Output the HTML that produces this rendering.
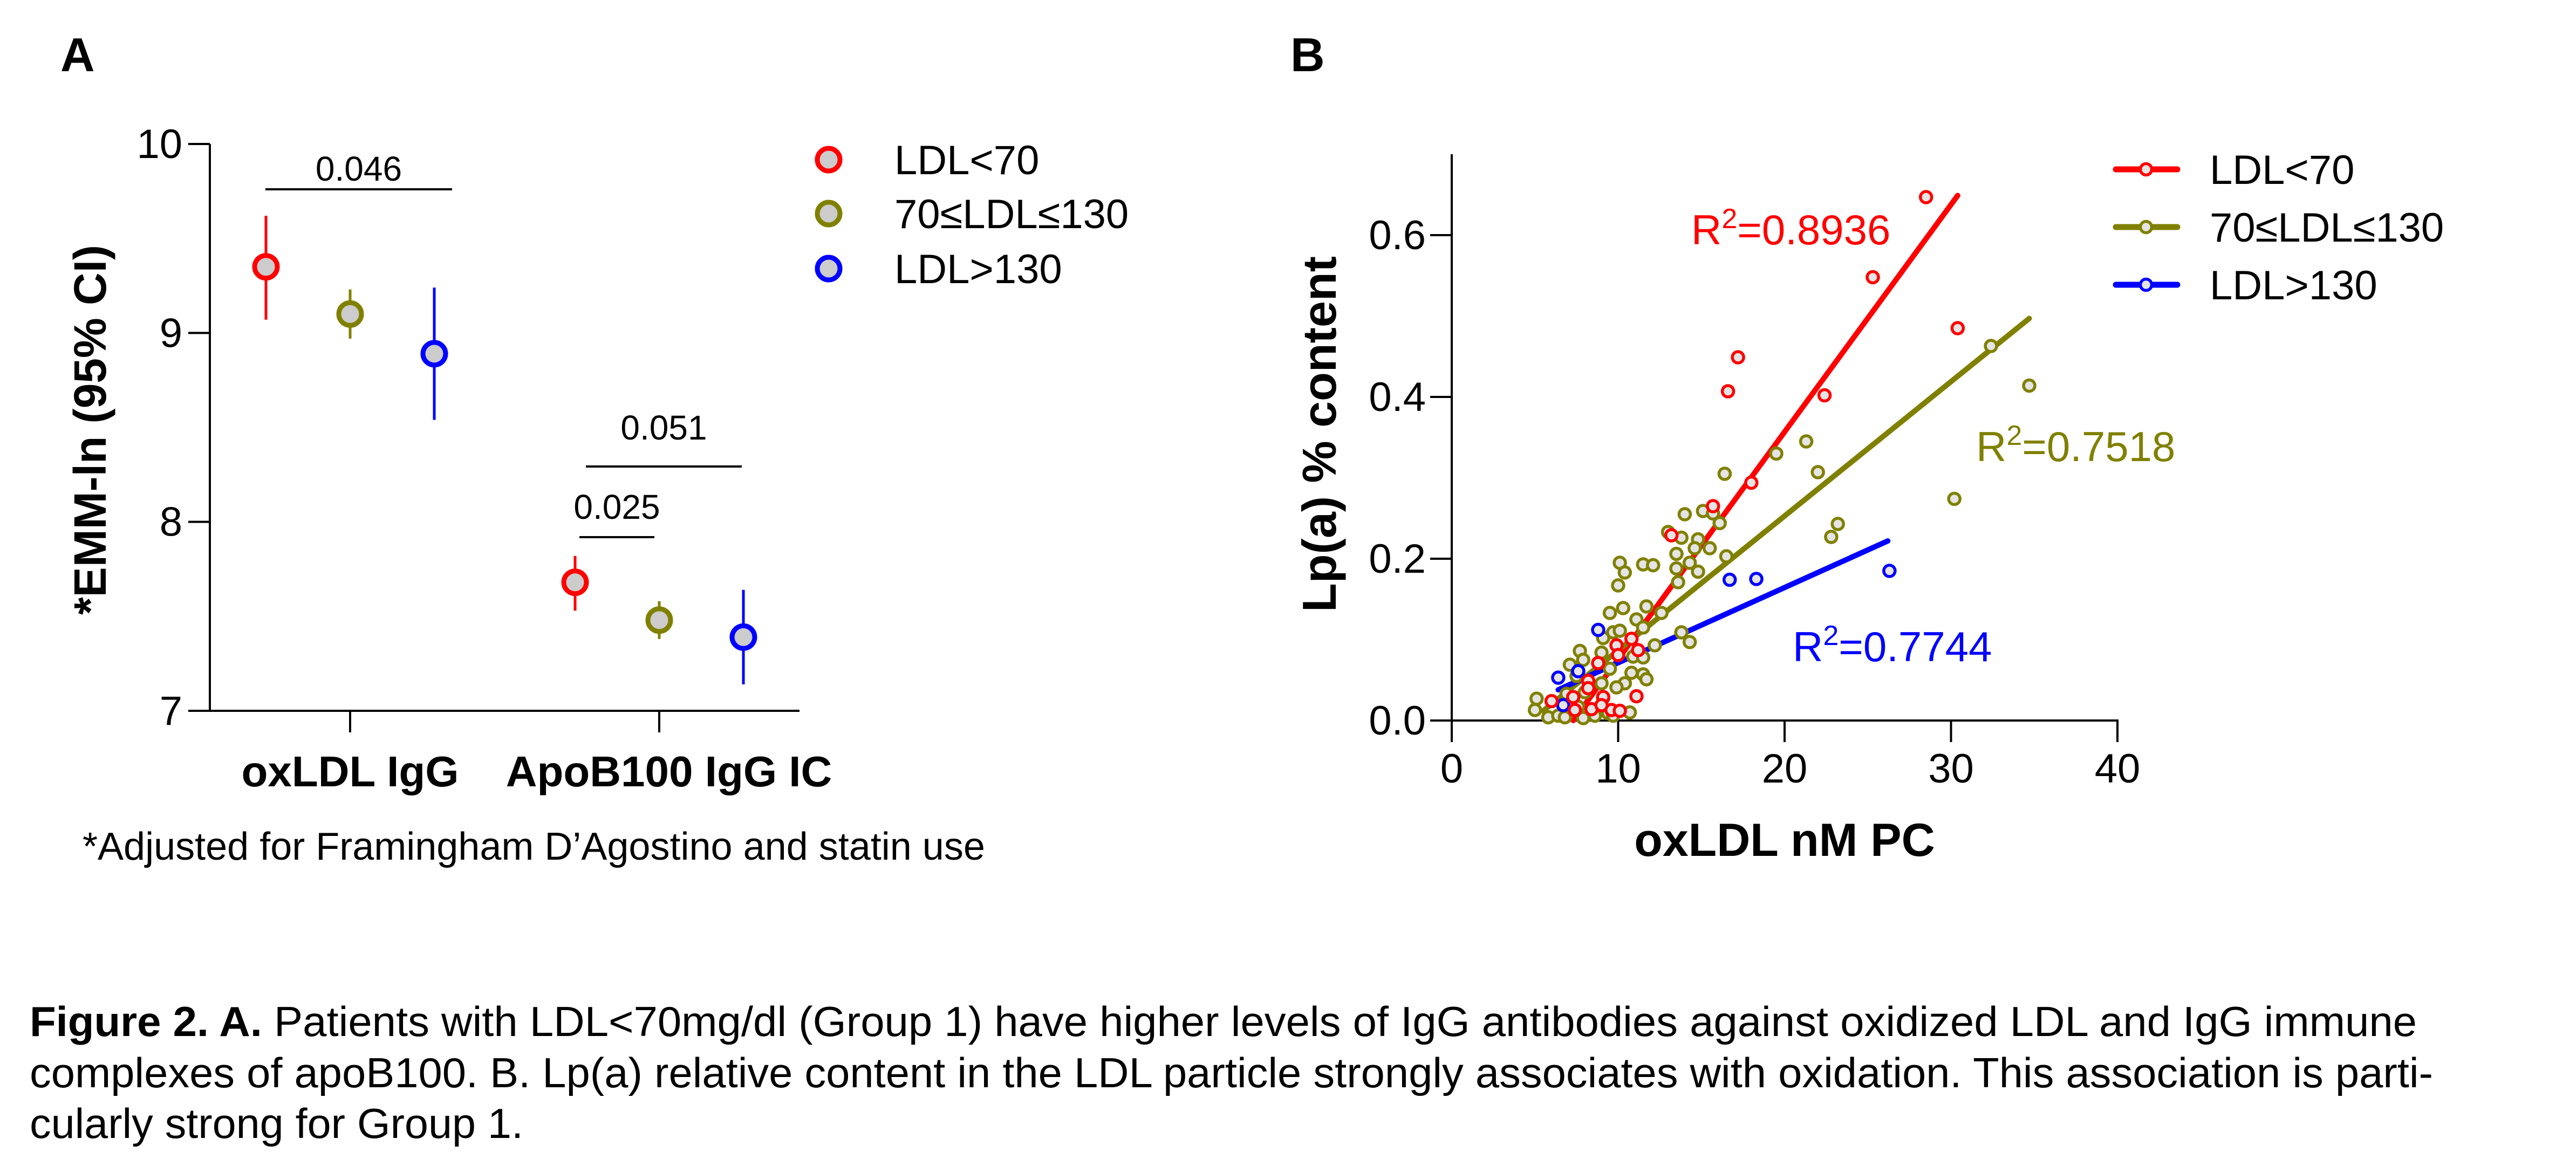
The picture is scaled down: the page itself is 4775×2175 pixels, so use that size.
<!DOCTYPE html>
<html><head><meta charset="utf-8"><style>
html,body{margin:0;padding:0;background:#fff;width:4775px;height:2175px;overflow:hidden}
svg{display:block}
text{font-family:"Liberation Sans",Arial,sans-serif}
</style></head><body>
<svg id="fig" xmlns="http://www.w3.org/2000/svg" width="4775" height="2175" viewBox="0 0 4775 2175">
<rect width="4775" height="2175" fill="#fff"/>
<text x="112" y="132" font-size="88" font-weight="bold">A</text>
<text x="2392" y="132" font-size="88" font-weight="bold">B</text>
<g id="chartA"></g>
<g id="chartB"></g>
<text x="153" y="1594" font-size="72">*Adjusted for Framingham D’Agostino and statin use</text>
<g font-size="78">
<text x="55" y="1921" textLength="4425" lengthAdjust="spacingAndGlyphs"><tspan font-weight="bold">Figure 2. A.</tspan> Patients with LDL&lt;70mg/dl (Group 1) have higher levels of IgG antibodies against oxidized LDL and IgG immune</text>
<text x="55" y="2016" textLength="4455" lengthAdjust="spacingAndGlyphs">complexes of apoB100. B. Lp(a) relative content in the LDL particle strongly associates with oxidation. This association is parti-</text>
<text x="55" y="2110" textLength="915" lengthAdjust="spacingAndGlyphs">cularly strong for Group 1.</text>
</g>
</svg>
<script>
// ---------- Panel A data ----------
const aCategories = ["oxLDL IgG", "ApoB100 IgG IC"];
const aGroups = ["LDL<70", "70≤LDL≤130", "LDL>130"];
const aMeans = [[9.35, 9.10, 8.89], [7.68, 7.48, 7.39]];
const aLow = [[9.07, 8.97, 8.54], [7.53, 7.38, 7.14]];
const aHigh = [[9.62, 9.23, 9.24], [7.82, 7.58, 7.64]];
const aTicks = [7, 8, 9, 10];
const aPvals = ["0.046", "0.051", "0.025"];

// ---------- Panel B data ----------
const bXTicks = [0, 10, 20, 30, 40];
const bYTicks = [0.0, 0.2, 0.4, 0.6];
const bYTickLabels = ["0.0", "0.2", "0.4", "0.6"];
const redX = [28.5,25.3,30.4,17.2,16.6,22.4,18.0,15.7,13.2,10.8,9.9,10.0,11.2,8.8,8.2,8.2,7.3,6.0,9.1,11.1,7.4,8.4,9.6,10.1,9.0];
const redY = [0.647,0.548,0.485,0.449,0.407,0.402,0.294,0.265,0.229,0.101,0.093,0.081,0.087,0.071,0.049,0.040,0.029,0.024,0.029,0.030,0.013,0.014,0.013,0.012,0.019];
const oliveX = [16.4,22.0,14.0,15.1,15.7,16.1,13.8,13.0,14.8,14.6,15.5,13.5,14.3,13.5,14.8,13.6,16.5,10.1,10.4,10.0,11.5,12.1,9.5,10.3,11.7,12.6,11.1,11.5,13.8,14.3,12.2,9.1,9.7,10.1,9.0,7.7,7.9,7.1,7.5,9.5,10.8,11.5,11.7,10.9,11.5,10.4,9.9,9.0,6.9,5.1,5.0,5.8,6.4,6.8,7.9,8.6,9.4,9.7,10.7,7.6,8.0,9.1,21.3,19.5,32.4,34.7,30.2,22.8,23.2];
const oliveY = [0.305,0.307,0.255,0.259,0.256,0.244,0.226,0.233,0.224,0.213,0.213,0.206,0.195,0.188,0.184,0.171,0.203,0.195,0.183,0.167,0.193,0.192,0.133,0.139,0.141,0.133,0.125,0.115,0.109,0.097,0.093,0.102,0.109,0.111,0.084,0.086,0.075,0.069,0.055,0.064,0.059,0.057,0.051,0.079,0.078,0.046,0.041,0.046,0.033,0.027,0.013,0.004,0.006,0.004,0.003,0.006,0.009,0.006,0.010,0.017,0.035,0.028,0.345,0.330,0.463,0.414,0.274,0.227,0.243];
const blueX = [16.7,18.3,26.3,8.8,6.4,7.6,6.7];
const blueY = [0.174,0.175,0.185,0.112,0.053,0.061,0.019];
const fitX = [[7.3,30.4],[5.5,34.7],[6.4,26.2]];
const fitY = [[0.0,0.649],[0.012,0.497],[0.038,0.222]];
const r2Labels = ["0.8936","0.7518","0.7744"];

const NS = "http://www.w3.org/2000/svg";
const colors = ["#ff0000", "#808000", "#0000ff"];
function mk(tag, attrs, parent, txt) {
  const e = document.createElementNS(NS, tag);
  for (const k in attrs) e.setAttribute(k, attrs[k]);
  if (txt !== undefined) e.textContent = txt;
  parent.appendChild(e);
  return e;
}

// ---------- Panel A ----------
const gA = document.getElementById("chartA");
const aY = v => 1318 - (v - 7) * (1318 - 267) / 3;
const aCatX = [649, 1222];
const aOff = [-156, 0, 156];
let e;
e = mk("line", {x1:389, y1:aY(10), x2:389, y2:1320, stroke:"#000", "stroke-width":4}, gA);


e = mk("line", {x1:387, y1:1318, x2:1482, y2:1318, stroke:"#000", "stroke-width":4}, gA);


aTicks.forEach(t => {
  const y = aY(t);
  e = mk("line", {x1:349, y1:y, x2:389, y2:y, stroke:"#000", "stroke-width":4}, gA);
  
  
  e = mk("text", {x:338, y:y+26, "font-size":76, "text-anchor":"end"}, gA, String(t));
  
  
});
aCategories.forEach((c, i) => {
  e = mk("line", {x1:aCatX[i], y1:1318, x2:aCatX[i], y2:1358, stroke:"#000", "stroke-width":4}, gA);
  
  
  e = mk("text", {x:aCatX[i] + (i ? 18 : 0), y:1458, "font-size":80, "font-weight":"bold", "text-anchor":"middle"}, gA, c);
  
  
  aGroups.forEach((g, j) => {
    const x = aCatX[i] + aOff[j];
    e = mk("line", {x1:x, y1:aY(aLow[i][j]), x2:x, y2:aY(aHigh[i][j]), stroke:colors[j], "stroke-width":5}, gA);
    
    
    e = mk("circle", {cx:x, cy:aY(aMeans[i][j]), r:21, fill:"#cccccc", stroke:colors[j], "stroke-width":9}, gA);
    
    
  });
});
e = mk("text", {x:0, y:0, "font-size":84, "font-weight":"bold", "text-anchor":"middle", transform:"translate(196,797) rotate(-90)"}, gA, "*EMM-ln (95% CI)");


const brk = [[492,838,351,311],[1086,1375,865,791],[1074,1213,996,938]];
aPvals.forEach((p, i) => {
  const b = brk[i];
  e = mk("line", {x1:b[0], y1:b[2], x2:b[1], y2:b[2], stroke:"#000", "stroke-width":4}, gA);
  
  
  e = mk("text", {x:(b[0]+b[1])/2, y:b[3]+24, "font-size":64, "text-anchor":"middle"}, gA, p);
  
  
});
const legAY = [296, 396, 498];
aGroups.forEach((g, j) => {
  e = mk("circle", {cx:1536, cy:legAY[j], r:21, fill:"#cccccc", stroke:colors[j], "stroke-width":9}, gA);
  
  
  e = mk("text", {x:1658, y:legAY[j]+27, "font-size":76}, gA, g);
  
  
});

// ---------- Panel B ----------
const gB = document.getElementById("chartB");
const bx = v => 2691 + v * 30.85;
const by = v => 1336 - v * 1500;
e = mk("line", {x1:2691, y1:286, x2:2691, y2:1338, stroke:"#000", "stroke-width":4}, gB);


e = mk("line", {x1:2689, y1:1336, x2:bx(40)+2, y2:1336, stroke:"#000", "stroke-width":4}, gB);


bYTicks.forEach((t, i) => {
  const y = by(t);
  e = mk("line", {x1:2651, y1:y, x2:2691, y2:y, stroke:"#000", "stroke-width":4}, gB);
  
  
  e = mk("text", {x:2643, y:y+26, "font-size":76, "text-anchor":"end"}, gB, bYTickLabels[i]);
  
  
});
bXTicks.forEach(t => {
  const x = bx(t);
  e = mk("line", {x1:x, y1:1336, x2:x, y2:1376, stroke:"#000", "stroke-width":4}, gB);
  
  
  e = mk("text", {x:x, y:1451, "font-size":76, "text-anchor":"middle"}, gB, String(t));
  
  
});
e = mk("text", {x:3308, y:1587, "font-size":86, "font-weight":"bold", "text-anchor":"middle"}, gB, "oxLDL nM PC");


e = mk("text", {x:0, y:0, "font-size":88, "font-weight":"bold", "text-anchor":"middle", transform:"translate(2476,805) rotate(-90)"}, gB, "Lp(a) % content");


fitX.forEach((fx, j) => {
  e = mk("line", {x1:bx(fx[0]), y1:by(fitY[j][0]), x2:bx(fx[1]), y2:by(fitY[j][1]), stroke:colors[j], "stroke-width":10, "stroke-linecap":"round"}, gB);
  
  
});
const series = [[oliveX, oliveY, 1], [blueX, blueY, 2], [redX, redY, 0]];
series.forEach(s => {
  s[0].forEach((v, i) => {
    e = mk("circle", {cx:bx(v), cy:by(s[1][i]), r:10.5, fill:"#e4e4e4", stroke:colors[s[2]], "stroke-width":5.5}, gB);
    
    
  });
});
const r2Pos = [[3135,453],[3663,855],[3323,1226]];
r2Labels.forEach((r, j) => {
  const t = mk("text", {x:r2Pos[j][0], y:r2Pos[j][1], "font-size":78, fill:colors[j]}, gB);
  
  
  mk("tspan", {}, t, "R");
  mk("tspan", {dy:-30, "font-size":52}, t, "2");
  mk("tspan", {dy:30}, t, "=" + r);
});
const legBY = [314, 421, 528];
aGroups.forEach((g, j) => {
  e = mk("line", {x1:3922, y1:legBY[j], x2:4036, y2:legBY[j], stroke:colors[j], "stroke-width":11, "stroke-linecap":"round"}, gB);
  
  
  e = mk("circle", {cx:3978, cy:legBY[j], r:10.5, fill:"#e4e4e4", stroke:colors[j], "stroke-width":5.5}, gB);
  
  
  e = mk("text", {x:4096, y:legBY[j]+27, "font-size":76}, gB, g);
  
  
});
</script>
</body></html>
